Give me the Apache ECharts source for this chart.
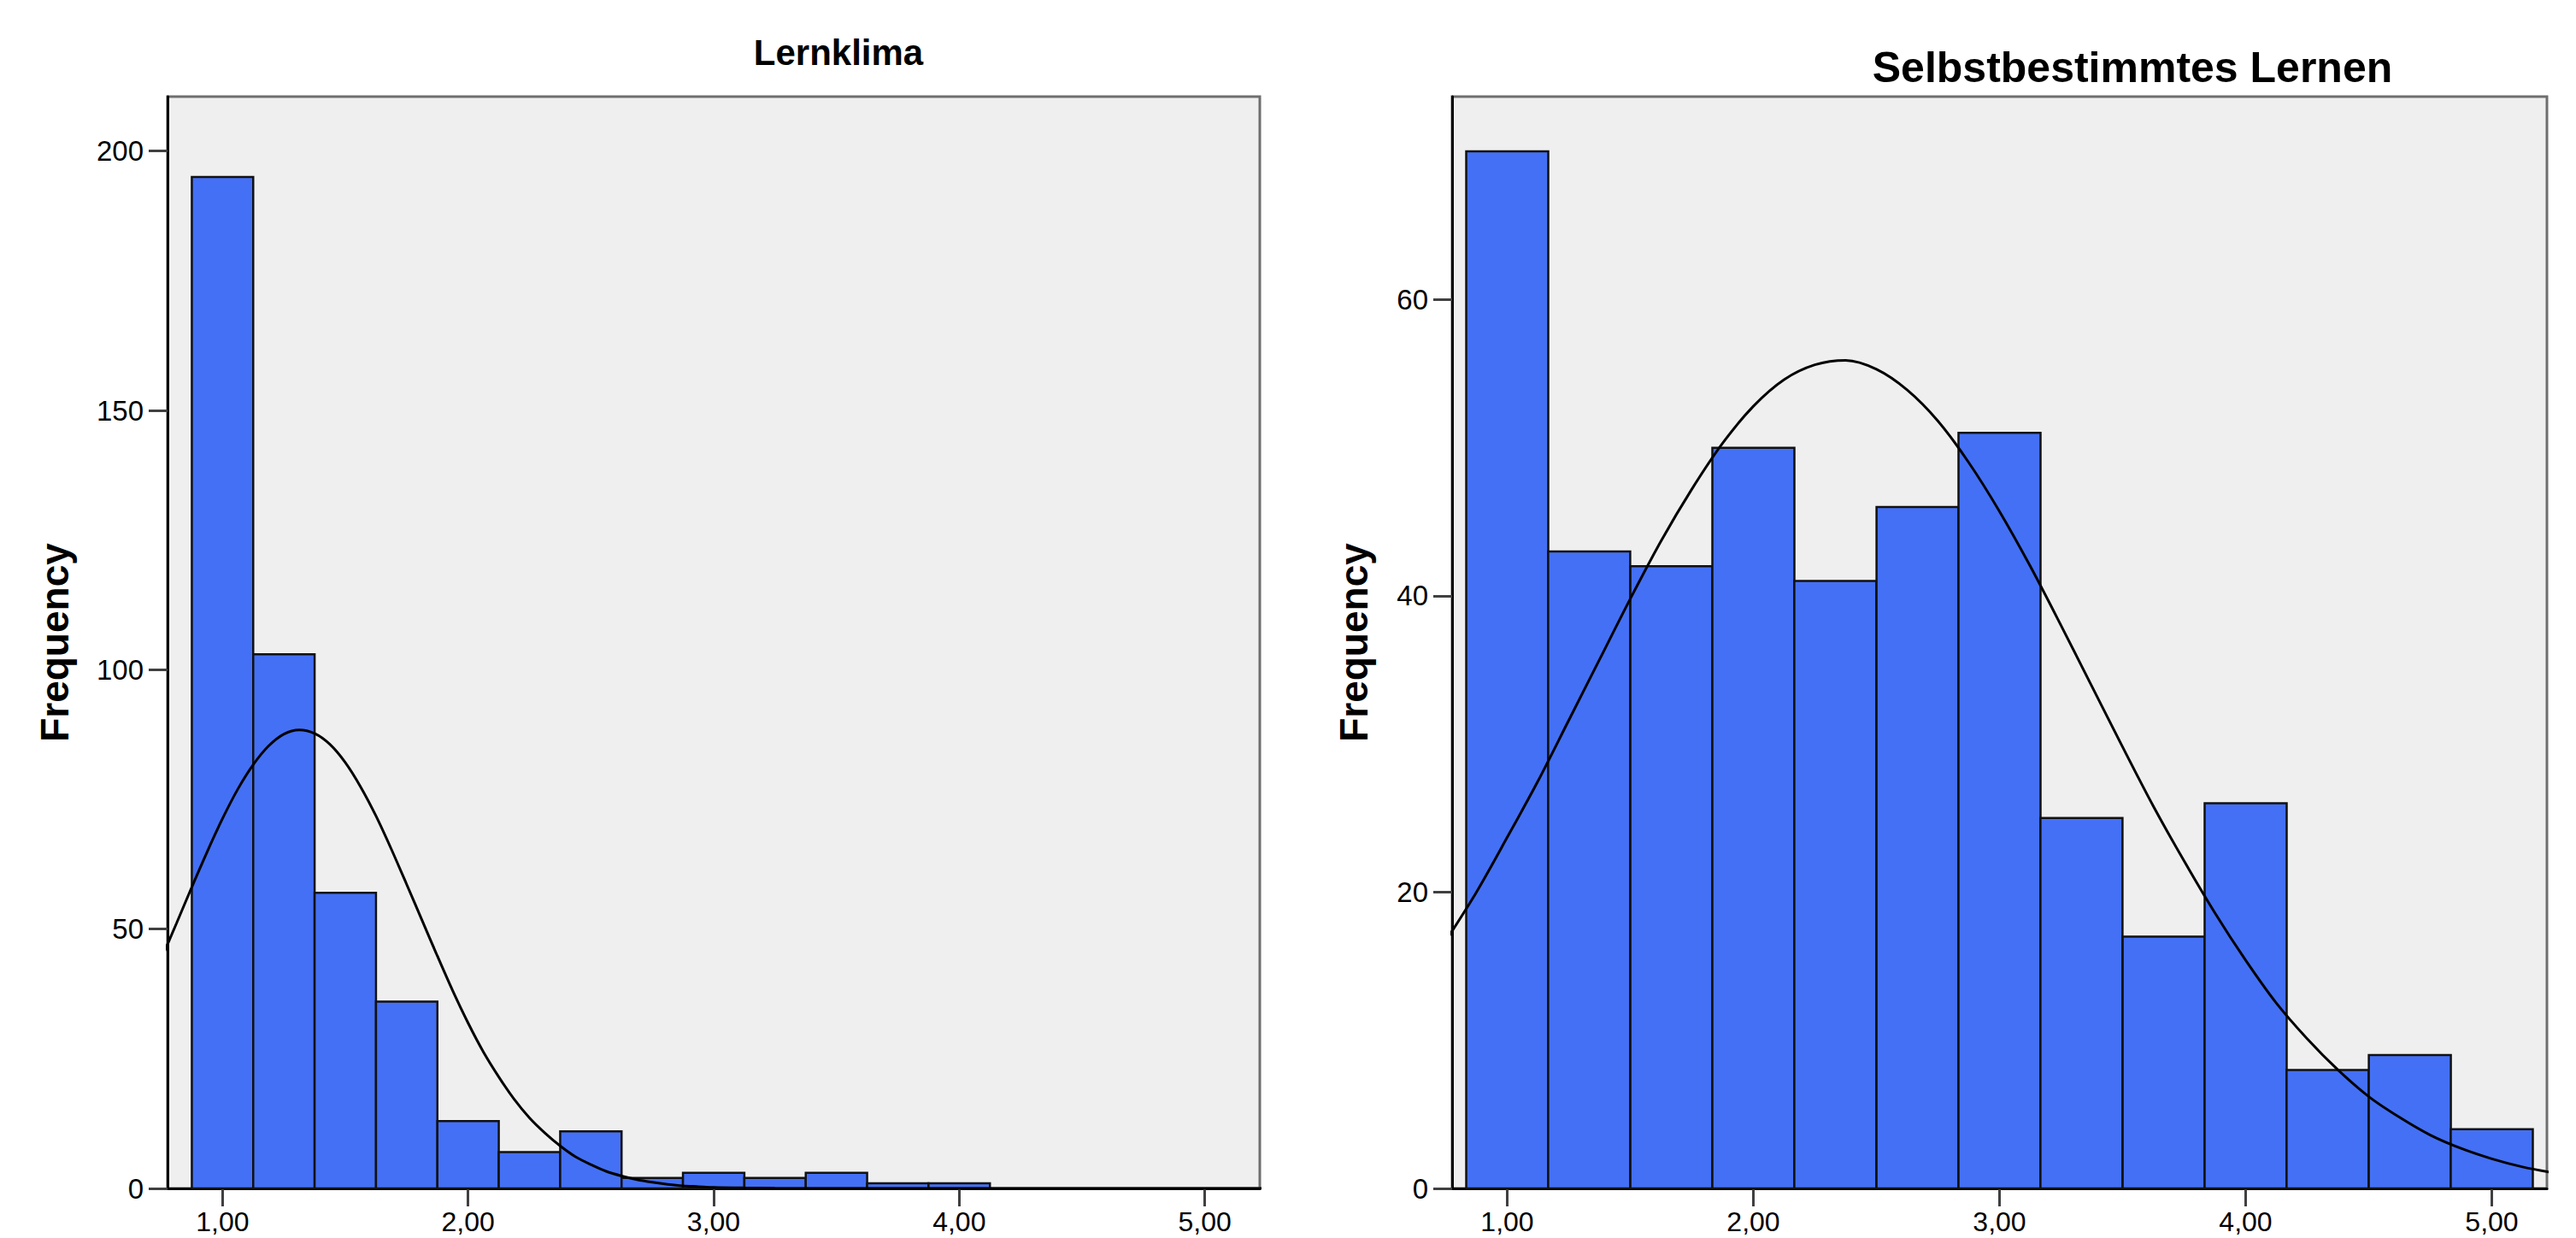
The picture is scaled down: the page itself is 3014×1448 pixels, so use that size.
<!DOCTYPE html>
<html>
<head>
<meta charset="utf-8">
<script src="https://cdn.jsdelivr.net/npm/echarts@6/dist/echarts.min.js"></script>
<style>
    html, body { margin: 0; padding: 0; background: #fff; }
    #histos { width: 3014px; height: 1448px; }
</style>
</head>
<body>
<div id="histos"></div>
<script>
// Lernklima histogram (bin centres, counts) and fitted normal curve
var lernBinWidth = 0.25;
var lernBins = [1.00, 1.25, 1.50, 1.75, 2.00, 2.25, 2.50, 2.75, 3.00, 3.25, 3.50, 3.75, 4.00];
var lernCounts = [195, 103, 57, 36, 13, 7, 11, 2, 3, 2, 3, 1, 1];
var lernCurveX = [0.75, 0.8125, 0.875, 0.9375, 1.0, 1.0625, 1.125, 1.1875, 1.25, 1.3125, 1.375,
    1.4375, 1.5, 1.5625, 1.625, 1.6875, 1.75, 1.8125, 1.875, 1.9375, 2.0, 2.0625, 2.125, 2.1875,
    2.25, 2.3125, 2.375, 2.4375, 2.5, 2.5625, 2.625, 2.6875, 2.75, 2.8125, 2.875, 2.9375, 3.0,
    3.125, 3.25, 3.5, 3.75, 4.0, 4.25, 4.5, 4.75, 5.0, 5.25];
var lernCurveY = [44.2, 51.1, 58.1, 64.9, 71.3, 77.0, 81.7, 85.3, 87.6, 88.4, 87.7,
    85.6, 82.1, 77.4, 71.8, 65.4, 58.6, 51.7, 44.8, 38.1, 31.9, 26.3, 21.5, 17.2,
    13.6, 10.7, 8.2, 6.1, 4.6, 3.3, 2.4, 1.7, 1.2, 0.8, 0.5, 0.35, 0.2,
    0.1, 0.05, 0, 0, 0, 0, 0, 0, 0, 0];

// Selbstbestimmtes Lernen histogram and fitted normal curve
var sblBinWidth = 0.3333;
var sblBins = [1.000, 1.333, 1.667, 2.000, 2.333, 2.667, 3.000, 3.333, 3.667, 4.000, 4.333, 4.667, 5.000];
var sblCounts = [70, 43, 42, 50, 41, 46, 51, 25, 17, 26, 8, 9, 4];
var sblCurveX = [0.75, 0.875, 1.0, 1.125, 1.25, 1.375, 1.5, 1.625, 1.75, 1.875, 2.0, 2.125,
    2.25, 2.375, 2.5, 2.625, 2.75, 2.875, 3.0, 3.125, 3.25, 3.375, 3.5, 3.625, 3.75, 3.875,
    4.0, 4.125, 4.25, 4.375, 4.5, 4.625, 4.75, 4.875, 5.0, 5.125, 5.25];
var sblCurveY = [16.7, 20.0, 23.7, 27.5, 31.6, 35.7, 39.8, 43.7, 47.2, 50.3, 52.8, 54.6,
    55.6, 55.9, 55.3, 53.9, 51.8, 49.0, 45.7, 42.0, 38.0, 33.9, 29.8, 25.8, 22.1, 18.6,
    15.4, 12.5, 10.1, 8.0, 6.2, 4.8, 3.6, 2.7, 2.0, 1.45, 1.05];

var xTicks = [1, 2, 3, 4, 5];
var lernYTicks = [0, 50, 100, 150, 200];
var sblYTicks = [0, 20, 40, 60];

var FONT = "'Liberation Sans', Arial, sans-serif";

function histItem(binWidth) {
    return function (params, api) {
        var x = api.value(0);
        var y = api.value(1);
        var p0 = api.coord([x - binWidth / 2, y]);
        var p1 = api.coord([x + binWidth / 2, 0]);
        return {
            type: 'rect',
            shape: { x: p0[0], y: p0[1], width: p1[0] - p0[0], height: p1[1] - p0[1] },
            style: { fill: '#4470f5', stroke: '#111', lineWidth: 2.5 }
        };
    };
}

function xAxisFor(grid) {
    return {
        type: 'value',
        gridIndex: grid,
        min: 0.776,
        max: 5.224,
        axisLine: { show: true, lineStyle: { color: '#000', width: 3 } },
        axisTick: { show: true, customValues: xTicks, length: 21, lineStyle: { color: '#404040', width: 3 } },
        axisLabel: {
            customValues: xTicks,
            margin: 23,
            fontSize: 32,
            lineHeight: 32,
            fontFamily: FONT,
            color: '#000',
            formatter: function (v) { return v.toFixed(2).replace('.', ','); }
        },
        splitLine: { show: false }
    };
}

function yAxisFor(grid, max, ticks, gap) {
    return {
        type: 'value',
        gridIndex: grid,
        min: 0,
        max: max,
        name: 'Frequency',
        nameLocation: 'middle',
        nameGap: gap,
        nameTextStyle: { fontSize: 46, fontWeight: 'bold', fontFamily: FONT, color: '#000' },
        axisLine: { show: true, lineStyle: { color: '#000', width: 3 } },
        axisTick: { show: true, customValues: ticks, length: 22, lineStyle: { color: '#404040', width: 3 } },
        axisLabel: { customValues: ticks, margin: 28, fontSize: 33, fontFamily: FONT, color: '#000' },
        splitLine: { show: false }
    };
}

var chart = echarts.init(document.getElementById('histos'), null, { renderer: 'svg' });

var option = {
    backgroundColor: '#fff',
    animation: false,
    title: [
        {
            text: 'Lernklima', left: 981, top: 40, textAlign: 'center', padding: 0,
            textStyle: { fontSize: 42, fontWeight: 'bold', fontFamily: FONT, color: '#000' }
        },
        {
            text: 'Selbstbestimmtes Lernen', left: 2495, top: 54, textAlign: 'center', padding: 0,
            textStyle: { fontSize: 50, fontWeight: 'bold', fontFamily: FONT, color: '#000' }
        }
    ],
    grid: [
        { left: 196, top: 113, width: 1278, bottom: 58, show: true,
          backgroundColor: '#efefef', borderColor: '#6e6e6e', borderWidth: 3 },
        { left: 1699, top: 113, width: 1281, bottom: 58, show: true,
          backgroundColor: '#efefef', borderColor: '#6e6e6e', borderWidth: 3 }
    ],
    xAxis: [xAxisFor(0), xAxisFor(1)],
    yAxis: [yAxisFor(0, 210.5, lernYTicks, 109), yAxisFor(1, 73.7, sblYTicks, 92)],
    series: [
        {
            type: 'custom',
            xAxisIndex: 0, yAxisIndex: 0,
            renderItem: histItem(lernBinWidth),
            encode: { x: 0, y: 1 },
            data: lernBins.map(function (b, i) { return [b, lernCounts[i]]; })
        },
        {
            type: 'line',
            xAxisIndex: 0, yAxisIndex: 0,
            smooth: 0.3,
            symbol: 'none',
            clip: true,
            lineStyle: { color: '#000', width: 3 },
            data: lernCurveX.map(function (x, i) { return [x, lernCurveY[i]]; }),
            z: 5
        },
        {
            type: 'custom',
            xAxisIndex: 1, yAxisIndex: 1,
            renderItem: histItem(sblBinWidth),
            encode: { x: 0, y: 1 },
            data: sblBins.map(function (b, i) { return [b, sblCounts[i]]; })
        },
        {
            type: 'line',
            xAxisIndex: 1, yAxisIndex: 1,
            smooth: 0.3,
            symbol: 'none',
            clip: true,
            lineStyle: { color: '#000', width: 3 },
            data: sblCurveX.map(function (x, i) { return [x, sblCurveY[i]]; }),
            z: 5
        }
    ]
};

chart.setOption(option);
</script>
</body>
</html>
